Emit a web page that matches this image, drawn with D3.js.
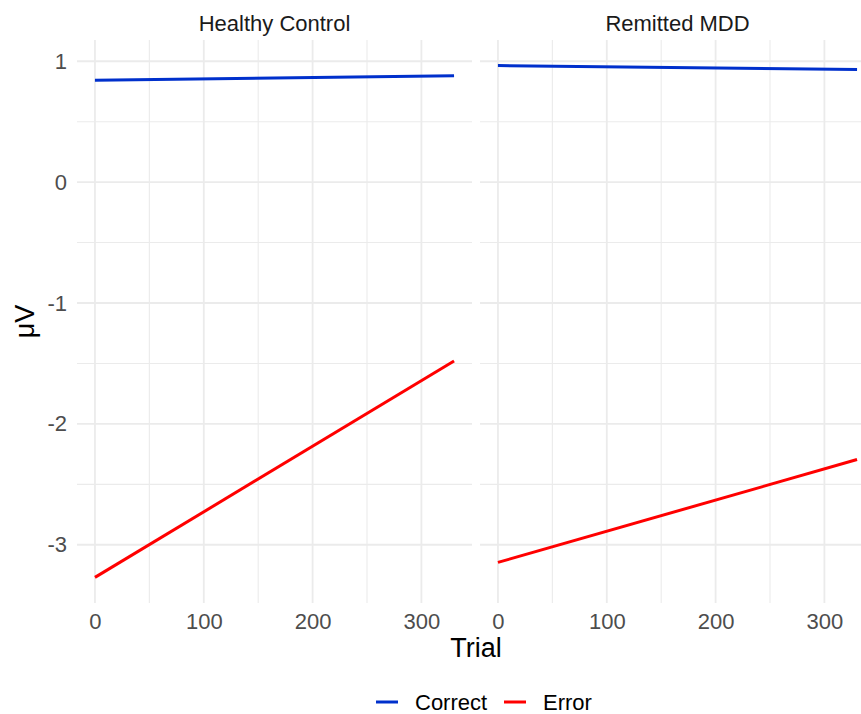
<!DOCTYPE html>
<html>
<head>
<meta charset="utf-8">
<script src="https://cdn.jsdelivr.net/npm/d3@7"></script>
<style>
  body { margin: 0; background: #fff; }
  svg { display: block; overflow: hidden; }
  text { font-family: "Liberation Sans", Arial, Helvetica, sans-serif; }
</style>
</head>
<body>
<div id="chart"></div>
<script>
// Data
const panels = ['Healthy Control', 'Remitted MDD'];
const trials = [0, 330];
const correctValues = {
  'Healthy Control': [0.843, 0.879],
  'Remitted MDD': [0.964, 0.931]
};
const errorValues = {
  'Healthy Control': [-3.27, -1.48],
  'Remitted MDD': [-3.146, -2.295]
};
const xTicks = [0, 100, 200, 300];
const xMinor = [50, 150, 250];
const yTicks = [1, 0, -1, -2, -3];
const yMinor = [0.5, -0.5, -1.5, -2.5];
const seriesNames = ['Correct', 'Error'];
const seriesColors = { Correct: '#0030CC', Error: '#FF0000' };

// Layout
const CONFIG = {
  width: 861,
  height: 714,
  panelTop: 40,
  panelBottom: 603,
  panelLefts: [77, 480],
  panelWidth: 395,
  grid: '#EBEBEB',
  tickFont: '22px'
};

const svg = d3.select('#chart').append('svg')
  .attr('width', CONFIG.width)
  .attr('height', CONFIG.height);

// Shared scales (ggplot default 5% expansion)
const allY = [...Object.values(correctValues).flat(), ...Object.values(errorValues).flat()];
const yMin = d3.min(allY), yMax = d3.max(allY);
const yPad = (yMax - yMin) * 0.05;
const xPad = (trials[1] - trials[0]) * 0.05;

const yScale = d3.scaleLinear()
  .domain([yMin - yPad, yMax + yPad])
  .range([CONFIG.panelBottom, CONFIG.panelTop]);

panels.forEach((panel, i) => {
  const left = CONFIG.panelLefts[i];
  const xScale = d3.scaleLinear()
    .domain([trials[0] - xPad, trials[1] + xPad])
    .range([left, left + CONFIG.panelWidth]);

  const g = svg.append('g').attr('class', 'panel');

  // minor grid
  g.selectAll('.vminor').data(xMinor).join('line')
    .attr('x1', d => xScale(d)).attr('x2', d => xScale(d))
    .attr('y1', CONFIG.panelTop).attr('y2', CONFIG.panelBottom)
    .attr('stroke', CONFIG.grid).attr('stroke-width', 1.1);
  g.selectAll('.hminor').data(yMinor).join('line')
    .attr('x1', left).attr('x2', left + CONFIG.panelWidth)
    .attr('y1', d => yScale(d)).attr('y2', d => yScale(d))
    .attr('stroke', CONFIG.grid).attr('stroke-width', 1.1);

  // major grid
  g.selectAll('.vmajor').data(xTicks).join('line')
    .attr('x1', d => xScale(d)).attr('x2', d => xScale(d))
    .attr('y1', CONFIG.panelTop).attr('y2', CONFIG.panelBottom)
    .attr('stroke', CONFIG.grid).attr('stroke-width', 1.8);
  g.selectAll('.hmajor').data(yTicks).join('line')
    .attr('x1', left).attr('x2', left + CONFIG.panelWidth)
    .attr('y1', d => yScale(d)).attr('y2', d => yScale(d))
    .attr('stroke', CONFIG.grid).attr('stroke-width', 1.8);

  // strip title
  g.append('text')
    .attr('x', left + CONFIG.panelWidth / 2)
    .attr('y', 31)
    .attr('text-anchor', 'middle')
    .attr('fill', '#1A1A1A')
    .style('font-size', CONFIG.tickFont)
    .text(panel);

  // x axis
  const xAxis = g.append('g')
    .attr('transform', `translate(0, ${CONFIG.panelBottom})`)
    .call(d3.axisBottom(xScale).tickValues(xTicks).tickSize(0).tickPadding(10));
  xAxis.select('.domain').remove();
  xAxis.selectAll('text')
    .attr('fill', '#4D4D4D')
    .style('font-size', CONFIG.tickFont)
    .style('font-family', '"Liberation Sans", Arial, sans-serif');

  // y axis only on first panel (plain hyphen for negatives, like R)
  if (i === 0) {
    const yAxis = g.append('g')
      .attr('transform', `translate(${left}, 0)`)
      .call(d3.axisLeft(yScale).tickValues(yTicks).tickSize(0).tickPadding(10).tickFormat(d => String(d)));
    yAxis.select('.domain').remove();
    yAxis.selectAll('text')
      .attr('fill', '#4D4D4D')
      .style('font-size', CONFIG.tickFont)
      .style('font-family', '"Liberation Sans", Arial, sans-serif');
  }

  // lines
  const line = d3.line()
    .x(d => xScale(d[0]))
    .y(d => yScale(d[1]));

  const series = [
    { name: 'Correct', values: trials.map((t, j) => [t, correctValues[panel][j]]) },
    { name: 'Error', values: trials.map((t, j) => [t, errorValues[panel][j]]) }
  ];

  g.selectAll('.series').data(series).join('path')
    .attr('class', 'series')
    .attr('d', d => line(d.values))
    .attr('fill', 'none')
    .attr('stroke', d => seriesColors[d.name])
    .attr('stroke-width', 3);
});

// axis titles
svg.append('text')
  .attr('x', 476)
  .attr('y', 657)
  .attr('text-anchor', 'middle')
  .attr('fill', '#000')
  .style('font-size', '27px')
  .text('Trial');

svg.append('text')
  .attr('transform', `translate(34, ${(CONFIG.panelTop + CONFIG.panelBottom) / 2}) rotate(-90)`)
  .attr('text-anchor', 'middle')
  .attr('fill', '#000')
  .style('font-size', '27px')
  .text('μV');

// legend
const legendX = { Correct: 376, Error: 504 };
const legend = svg.append('g').attr('class', 'legend');
const legendItems = legend.selectAll('.legend-item')
  .data(seriesNames)
  .join('g')
  .attr('class', 'legend-item')
  .attr('transform', d => `translate(${legendX[d]}, 702)`);

legendItems.append('line')
  .attr('x1', 0).attr('x2', 22)
  .attr('y1', 0).attr('y2', 0)
  .attr('stroke', d => seriesColors[d])
  .attr('stroke-width', 3);

legendItems.append('text')
  .attr('x', 39)
  .attr('y', 8)
  .attr('fill', '#000')
  .style('font-size', CONFIG.tickFont)
  .text(d => d);
</script>
</body>
</html>
